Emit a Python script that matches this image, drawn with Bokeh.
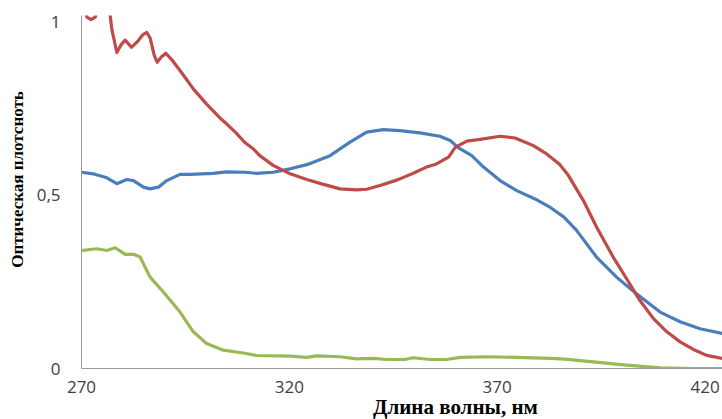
import math
from bokeh.plotting import figure
from bokeh.models import Range1d, FixedTicker, Label
from bokeh.embed import file_html
from bokeh.resources import INLINE

# ---- data ----
wl_red = [270, 271.3, 272.3, 273.3, 274.3, 275.5, 276.5, 277.3, 278.5, 279.5, 280.5, 281.3, 282.0,
          283.5, 284.8, 285.7, 286.5, 287.5, 288.2, 289.2, 290.3, 292.0, 293.7, 296.9, 300.1, 303.3,
          304.9, 307.0, 309.3, 311.3, 312.9, 316.1, 320.2, 324.2, 328.2, 332.2, 336.2, 338.6, 341.8,
          346.0, 349.8, 353.0, 355.4, 358.3, 359.9, 362.7, 365.9, 370.7, 374.3, 378.7, 381.9, 385.0,
          387.0, 390.7, 393.9, 397.9, 401.1, 404.3, 407.6, 410.8, 414.0, 417.2, 420.4, 424.2]
od_red = [1.08, 1.015, 1.008, 1.015, 1.06, 1.09, 1.06, 0.98, 0.913, 0.935, 0.949, 0.938, 0.928,
          0.945, 0.965, 0.971, 0.955, 0.905, 0.885, 0.900, 0.911, 0.888, 0.861, 0.808, 0.764, 0.724,
          0.707, 0.683, 0.653, 0.635, 0.615, 0.587, 0.5625, 0.546, 0.532, 0.519, 0.516, 0.518, 0.529,
          0.545, 0.564, 0.582, 0.591, 0.611, 0.639, 0.657, 0.662, 0.671, 0.666, 0.644, 0.620, 0.590,
          0.560, 0.486, 0.409, 0.322, 0.260, 0.197, 0.144, 0.106, 0.077, 0.055, 0.038, 0.029]

wl_blue = [270, 272.8, 276.1, 278.5, 280.9, 282.5, 284.9, 286.5, 288.5, 290.5, 293.7, 296.1, 301.7,
           304.9, 309.3, 312.1, 316.1, 320.2, 324.2, 329.8, 334.6, 338.6, 342.6, 346.6, 351.4, 356.2,
           358.7, 360.7, 363.9, 366.7, 370.7, 374.7, 379.5, 382.7, 386.0, 389.1, 393.9, 398.7, 403.5,
           409.2, 414.0, 418.8, 424.2]
od_blue = [0.567, 0.5625, 0.551, 0.534, 0.546, 0.543, 0.524, 0.519, 0.524, 0.543, 0.561, 0.561, 0.564,
           0.568, 0.567, 0.564, 0.567, 0.577, 0.589, 0.615, 0.654, 0.683, 0.690, 0.6875, 0.681, 0.671,
           0.659, 0.6375, 0.615, 0.582, 0.543, 0.514, 0.4875, 0.466, 0.438, 0.399, 0.322, 0.264, 0.216,
           0.163, 0.135, 0.115, 0.101]

wl_green = [270, 273.7, 276.1, 278.1, 280.5, 282.5, 284.1, 286.5, 289.7, 293.7, 296.9, 300.1, 304.1,
            309.3, 312.1, 320.2, 324.2, 326.6, 332.2, 336.2, 340.2, 343.4, 347.8, 349.8, 353.8, 357.8,
            361.1, 367.5, 374.7, 382.7, 386.3, 393.1, 401.1, 409.2, 417.2, 424.2]
od_green = [0.341, 0.346, 0.341, 0.349, 0.330, 0.330, 0.322, 0.264, 0.221, 0.163, 0.106, 0.072, 0.053,
            0.044, 0.0375, 0.0356, 0.032, 0.0365, 0.034, 0.028, 0.029, 0.026, 0.026, 0.031, 0.026, 0.026,
            0.032, 0.034, 0.032, 0.029, 0.027, 0.019, 0.0096, 0.002, 0.0, 0.0]

x_ticks = [270, 320, 370, 420]
y_ticks = [0, 0.5, 1]
y_tick_labels = {0: "0", 0.5: "0,5", 1: "1"}
x_title = "Длина волны, нм"
y_title = "Оптическая плотсноть"

X0, X1 = 270, 424.2
Y0, Y1 = 0, 1.02
W, H = 722, 419
LEFT, TOP, BOTTOM = 81, 15, 51

# ---- figure ----
p = figure(width=W, height=H, output_backend="svg", toolbar_location=None,
           x_range=Range1d(X0, X1), y_range=Range1d(Y0, Y1),
           min_border_left=LEFT, min_border_right=0, min_border_top=TOP, min_border_bottom=BOTTOM)
p.outline_line_color = None
p.background_fill_color = "white"
p.border_fill_color = "white"
p.xgrid.visible = False
p.ygrid.visible = False

for wl, od, col in [(wl_green, od_green, "#98B954"), (wl_blue, od_blue, "#4A7EBB"), (wl_red, od_red, "#BE4B48")]:
    p.line(wl, od, line_color=col, line_width=3.2, line_join="round", line_cap="round")

tick_font = "Open Sans"
p.xaxis.ticker = FixedTicker(ticks=x_ticks)
p.yaxis.ticker = FixedTicker(ticks=y_ticks)
p.yaxis.major_label_overrides = y_tick_labels
for ax in (p.xaxis, p.yaxis):
    ax.axis_line_color = "#9A9A9A"
    ax.axis_line_width = 1
    ax.major_tick_line_color = None
    ax.minor_tick_line_color = None
    ax.major_tick_out = 0
    ax.major_tick_in = 0
    ax.major_label_text_font = tick_font
    ax.major_label_text_font_size = "17px"
    ax.major_label_text_color = "#404040"
p.xaxis.major_label_standoff = 12
p.yaxis.major_label_standoff = 21

# axis titles placed as labels in the side panels (pixel offsets converted to data units)
frame_w = W - LEFT
frame_h = H - TOP - BOTTOM
px_per_x = frame_w / (X1 - X0)
px_per_y = frame_h / (Y1 - Y0)

xl = Label(x=291.5, y=Y0 - 38 / px_per_y, x_units="screen", y_units="data", text=x_title,
           text_font="Liberation Serif", text_font_style="bold", text_font_size="21px",
           text_color="black", text_align="left", text_baseline="alphabetic")
p.add_layout(xl, "below")
yl = Label(x=X0 - 64.5 / px_per_x, y=Y0 + 189 / px_per_y, x_units="data", y_units="data",
           text=y_title, angle=math.pi / 2, text_font="Liberation Serif", text_font_style="bold",
           text_font_size="17px", text_color="black", text_align="center", text_baseline="middle")
p.add_layout(yl, "left")

open("out.html", "w").write(file_html(p, INLINE))
